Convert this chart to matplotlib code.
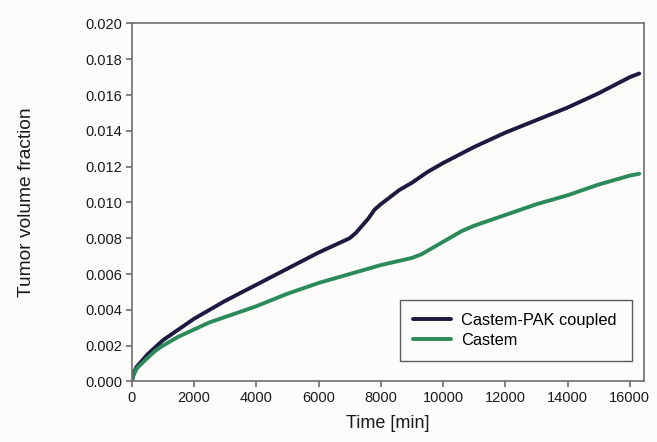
import matplotlib.pyplot as plt

# Curve readings from the figure (time in minutes, volume fraction)
time_pak = [0, 50, 150, 300, 500, 750, 1000, 1500, 2000, 2500, 3000, 4000, 5000,
            6000, 6500, 7000, 7200, 7400, 7600, 7800, 8000, 8300, 8600, 9000,
            9500, 10000, 11000, 12000, 13000, 14000, 15000, 16000, 16300]
vol_pak = [0.0, 0.0004, 0.0008, 0.0011, 0.0015, 0.0019, 0.0023, 0.0029, 0.0035,
           0.0040, 0.0045, 0.0054, 0.0063, 0.0072, 0.0076, 0.0080, 0.0083,
           0.0087, 0.0091, 0.0096, 0.0099, 0.0103, 0.0107, 0.0111, 0.0117,
           0.0122, 0.0131, 0.0139, 0.0146, 0.0153, 0.0161, 0.0170, 0.0172]

time_castem = [0, 50, 150, 300, 500, 750, 1000, 1500, 2000, 2500, 3000, 4000,
               5000, 6000, 7000, 8000, 8500, 9000, 9300, 9600, 9900, 10200,
               10600, 11000, 12000, 13000, 14000, 15000, 16000, 16300]
vol_castem = [0.0, 0.0003, 0.0007, 0.00097, 0.0013, 0.0017, 0.0020, 0.0025,
              0.0029, 0.0033, 0.0036, 0.0042, 0.0049, 0.0055, 0.0060, 0.0065,
              0.0067, 0.0069, 0.0071, 0.0074, 0.0077, 0.0080, 0.0084, 0.0087,
              0.0093, 0.0099, 0.0104, 0.0110, 0.0115, 0.0116]

series_names = ["Castem-PAK coupled", "Castem"]

plt.rcParams['font.family'] = ['Liberation Sans', 'DejaVu Sans']

fig = plt.figure(figsize=(6.57, 4.42), dpi=100, facecolor='#fdfcfb')
ax = fig.add_axes([0.2005, 0.137, 0.7795, 0.81])
ax.set_facecolor('#fdfcfb')

ax.plot(time_pak, vol_pak, color='#1c1a40', lw=2.8, label=series_names[0],
        solid_capstyle='round', solid_joinstyle='round')
ax.plot(time_castem, vol_castem, color='#2a8a5a', lw=2.8, label=series_names[1],
        solid_capstyle='round', solid_joinstyle='round')

ax.set_xlim(0, 16450)
ax.set_ylim(0, 0.020)
ax.set_xticks(range(0, 16001, 2000))
ax.set_yticks([i * 0.002 for i in range(11)])
ax.set_yticklabels([f"{i * 0.002:.3f}" for i in range(11)])

for s in ax.spines.values():
    s.set_color('#6e6e6e')
    s.set_linewidth(1.2)
ax.tick_params(direction='out', length=4, width=1.2, color='#6e6e6e',
               labelsize=10.5, labelcolor='#1a1a1a', pad=3)

ax.set_xlabel("Time [min]", fontsize=13, color='#1a1a1a', labelpad=7)
ax.set_ylabel("Tumor volume fraction", fontsize=13.8, color='#1a1a1a', labelpad=36)

leg = ax.legend(loc='lower left', bbox_to_anchor=(0.524, 0.057, 0.453, 0.173),
                mode='expand', borderaxespad=0, fontsize=11.8, frameon=True,
                fancybox=False, handlelength=2.3, handletextpad=0.6,
                borderpad=0.8, labelspacing=0.3)
leg.get_frame().set_edgecolor('#333333')
leg.get_frame().set_linewidth(1.0)
leg.get_frame().set_facecolor('#fdfcfb')

fig.savefig("out.png", dpi=100, facecolor=fig.get_facecolor())
